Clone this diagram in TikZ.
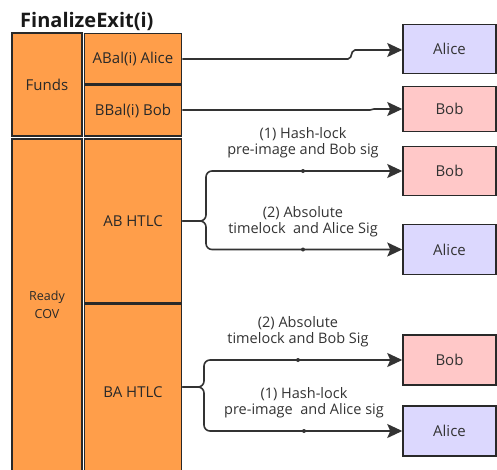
\documentclass[tikz,border=0pt]{standalone}
\usepackage{fontspec}
\setmainfont{Open Sans}
\usetikzlibrary{arrows.meta}
\definecolor{cellor}{HTML}{FF9E4A}
\definecolor{lav}{HTML}{DCD8FE}
\definecolor{pinkb}{HTML}{FFC8C8}
\definecolor{ink}{HTML}{333333}
\tikzset{
  cell/.style={draw=ink!80!black, line width=1.6pt, fill=cellor, inner sep=0pt, text=ink!80!black, font=\fontsize{15}{17}\selectfont},
  dest/.style={draw=ink!80!black, line width=1.5pt, inner sep=0pt, minimum width=93pt, font=\fontsize{15}{17}\selectfont, text=ink},
  conn/.style={draw=ink, line width=1.6pt, -{Stealth[length=15pt,width=14pt,inset=3pt]}},
  lbl/.style={font=\fontsize{14.5}{17}\selectfont, text=ink, align=center, inner sep=0pt},
  dot/.style={circle, fill=ink, inner sep=0pt, minimum size=4pt}
}
\begin{document}
\begin{tikzpicture}[x=1pt,y=-1pt]
\useasboundingbox (0,0) rectangle (497,469);
\node[anchor=base west, inner sep=0pt, font=\fontsize{20}{22}\selectfont\bfseries, text=black!90] (title) at (20,27) {FinalizeExit(i)};
% cells
\node[cell, minimum width=70pt, minimum height=103pt] (funds) at (47,84.5) {Funds};
\node[cell, minimum width=97pt, minimum height=50pt] (abal) at (133,58.5) {ABal(i) Alice};
\node[cell, minimum width=97pt, minimum height=51pt] (bbal) at (133,110.5) {BBal(i) Bob};
\node[cell, minimum width=70pt, minimum height=332pt, align=center, font=\fontsize{12.5}{18}\selectfont] (ready) at (47,305) {Ready\\COV};
\node[cell, minimum width=97pt, minimum height=164pt] (ab) at (133,221) {AB HTLC};
\node[cell, minimum width=97pt, minimum height=175pt] (ba) at (133,392) {BA HTLC};
% destinations
\node[dest, fill=lav, minimum height=49pt] (alice1) at (449.5,49) {Alice};
\node[dest, fill=pinkb, minimum height=45pt] (bob1) at (449.5,109) {Bob};
\node[dest, fill=pinkb, minimum height=49pt] (bob2) at (449.5,171) {Bob};
\node[dest, fill=lav, minimum height=50pt] (alice2) at (449.5,249.5) {Alice};
\node[dest, fill=pinkb, minimum height=50pt] (bob3) at (449.5,360) {Bob};
\node[dest, fill=lav, minimum height=50pt] (alice3) at (449.5,431) {Alice};
% top connectors
\draw[conn, rounded corners=2pt] (abal.east |- 0,59) -- (350,59) -- (353,50) -- (alice1.west |- 0,50);
\draw[conn] (bbal.east |- 0,110) -- (370,110) -- (374,109) -- (bob1.west);
% AB branches
\draw[conn, rounded corners=6pt] (ab.east) -- (206,221) |- (bob2.west);
\draw[conn, rounded corners=6pt] (ab.east) -- (206,221) |- (alice2.west);
\node[dot] (d1) at (303,171) {};
\node[dot] (d2) at (303,249.5) {};
\node[lbl] (l1) at (303,142.5) {(1) Hash-lock\\[-1pt]pre-image and Bob sig};
\node[lbl] (l2) at (303,221.5) {(2) Absolute\\[-1pt]timelock\ \ and Alice Sig};
% BA branches
\draw[conn, rounded corners=6pt] (ba.east |- 0,387) -- (204,387) |- (bob3.west);
\draw[conn, rounded corners=6pt] (ba.east |- 0,387) -- (204,387) |- (alice3.west);
\node[dot] (d3) at (298,360) {};
\node[dot] (d4) at (304,431) {};
\node[lbl] (l3) at (298,332) {(2) Absolute\\[-1pt]timelock and Bob Sig};
\node[lbl] (l4) at (304,403) {(1) Hash-lock\\[-1pt]pre-image\ \ and Alice sig};
\end{tikzpicture}
\end{document}
